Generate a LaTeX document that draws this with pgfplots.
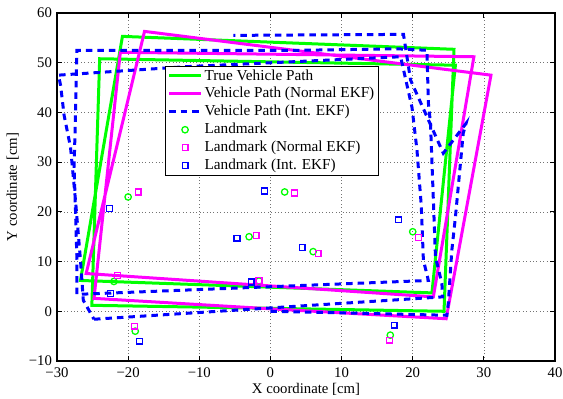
\documentclass[border=0pt]{standalone}
\usepackage{pgfplots}
\pgfplotsset{compat=1.18}
\usepackage{fontspec}
\setmainfont{Liberation Serif}
\definecolor{mgreen}{rgb}{0,1,0}
\definecolor{mmag}{rgb}{1,0,1}
\definecolor{mblue}{rgb}{0,0,1}
\begin{document}
\fontsize{14.8}{17}\selectfont
\begin{tikzpicture}
\begin{axis}[
  at={(0,0)}, anchor=south west,
  scale only axis, width=498bp, height=348bp,
  xmin=-30, xmax=40, ymin=-10, ymax=60,
  xtick={-30,-20,...,40}, ytick={-10,0,...,60},
  xticklabels={−30,−20,−10,0,10,20,30,40},
  yticklabels={−10,0,10,20,30,40,50,60},
  tick align=inside, major tick length=5bp,
  tick style={black, line width=0.8pt},
  axis line style={line width=1.3pt},
  grid=major,
  major grid style={black!55, line width=0.6pt, dash pattern=on 0.8bp off 2.6bp},
  xlabel={X coordinate [cm]}, ylabel={Y coordinate [cm]},
  every tick label/.append style={font=\fontsize{14.8}{17}\selectfont},
  xticklabel style={yshift=-2bp},
  label style={font=\fontsize{14.8}{17}\selectfont},
  xlabel style={yshift=4.5bp},
  legend cell align=left,
  legend image code/.code={\draw[mark repeat=2,mark phase=2,#1] plot coordinates {(0bp,0bp) (16bp,0bp) (32bp,0bp)};},
  legend style={at={(rel axis cs:0.2169,0.8486)}, anchor=north west,
    draw=black, line width=1.1pt, inner xsep=2bp, inner ysep=1.2bp,
    font=\fontsize{15.3}{17}\selectfont, row sep=1.2bp,
    /tikz/every even column/.append style={column sep=2bp}},
  unbounded coords=jump,
  clip=false,
]
% True vehicle path
\addplot[mgreen, line width=3bp, line join=miter]
  coordinates {(0,0.6) (24.4,0) (25.8,52.7) (-20.8,55.3) (-26.7,6.2) (22.7,3.7) (26.0,49.5) (-24,50.8) (-25.1,1.2) (0,0.6)};
\addlegendentry{True Vehicle Path}
% Normal EKF
\addplot[mmag, line width=3bp, line join=miter]
  coordinates {(0,0.5) (24.7,-1.5) (31.0,47.5) (-17.7,56.3) (-25.9,7.6) (22.9,2.9) (28.6,51.2) (-21.1,52.1) (-24.8,2.6) (0,0.5)};
\addlegendentry{Vehicle Path (Normal EKF)}
% Int EKF
\addplot[mblue, line width=3bp, dash pattern=on 6.5bp off 5bp]
  coordinates {(0,0) (24.8,-0.8)
   (25.0,1.6) (25.5,12.3) (26.0,18.9) (27.1,35.8) (27.5,37.8)
   (24.3,31.8) (19.7,46.5) (18.7,55.7) (-5.2,55.5)
   (nan,nan)
   (-24.8,-1.6) (24.2,2.9) (24.1,5.6) (23.2,10.9) (22.5,37.8) (22.2,41.9) (22.0,52.5)
   (17.8,52.8) (4.2,52.5) (-27.2,52.5)
   (-27.4,39.4) (-27.6,29.0) (-27.4,20.3) (-27.2,10.3) (-27.2,3.4)
   (22.2,6.2)
   (21.5,10.3) (21.2,21.3) (20.6,32.4) (19.9,41.0) (18.3,51.2)
   (-11.9,49.2) (-29.8,47.5)
   (-29.5,45.5) (-29.0,39.4) (-28.1,33.0) (-27.4,22.3) (-26.7,10.3) (-26.3,2.2) (-24.8,-1.6)};
\addlegendentry{Vehicle Path (Int. EKF)}
% Landmarks
\addplot[only marks, mark=o, mark size=3.2bp, mgreen, line width=1.3pt]
  coordinates {(-20,23) (-3,15) (2,24) (-22,6) (-19,-4) (6,12) (20,16) (16.85,-4.8) (-1.6,6.1)};
\addlegendentry{Landmark}
\addplot[only marks, mark=square, mark size=2.9bp, mmag, line width=1.3pt]
  coordinates {(-18.6,24.0) (-2.0,15.2) (3.4,23.8) (-21.5,7.2) (-19.1,-3.0) (6.7,11.6) (20.8,14.8) (16.75,-5.8) (-1.6,6.2)};
\addlegendentry{Landmark (Normal EKF)}
\addplot[only marks, mark=square, mark size=2.9bp, mblue, line width=1.3pt]
  coordinates {(-22.6,20.7) (-4.7,14.7) (-0.8,24.2) (-22.5,3.6) (-18.4,-6.0) (-2.7,5.9) (4.45,12.8) (18.0,18.4) (17.4,-2.8)};
\addlegendentry{Landmark (Int. EKF)}
\end{axis}
\pgfresetboundingbox
\path (-57bp,-38bp) rectangle (506bp,361bp);
\end{tikzpicture}
\end{document}
